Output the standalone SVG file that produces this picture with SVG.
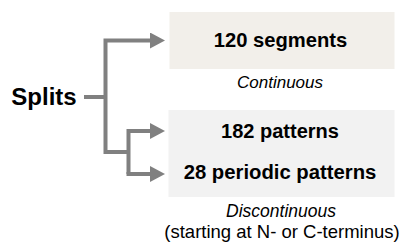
<svg xmlns="http://www.w3.org/2000/svg" width="406" height="251" viewBox="0 0 406 251">
  <style>
    .label { font-family: "Liberation Sans", Arial, sans-serif; fill: #000; text-anchor: middle; }
    .bold { font-weight: bold; font-size: 20px; }
    .note { font-size: 17px; }
    .note-lg { font-size: 18.5px; }
    .it { font-style: italic; }
    .wire { fill: none; stroke: #808080; stroke-width: 4; }
  </style>
  <defs>
    <marker id="head" viewBox="0 0 15 16" refX="0" refY="8" markerWidth="15" markerHeight="16" markerUnits="userSpaceOnUse" orient="auto">
      <polygon points="0,0 15,8 0,16" fill="#808080"/>
    </marker>
  </defs>

  <!-- root label -->
  <g id="splits">
    <text class="label bold" x="44" y="105" style="font-size:24px">Splits</text>
  </g>

  <!-- continuous category -->
  <g id="segments">
    <rect x="169.5" y="12" width="225" height="57" fill="#f2efea"/>
    <text class="label bold" x="280.5" y="47" style="font-size:20.2px">120 segments</text>
    <text class="label note it" x="280" y="88">Continuous</text>
  </g>

  <!-- discontinuous category -->
  <g id="patterns">
    <rect x="168.5" y="110" width="226" height="87" fill="#f2f2f2"/>
    <text class="label bold" x="280" y="138">182 patterns</text>
    <text class="label bold" x="280" y="179" style="font-size:20.3px">28 periodic patterns</text>
    <text class="label note it" x="281" y="217" style="font-size:17.5px">Discontinuous</text>
    <text class="label note-lg" x="282" y="238">(starting at N- or C-terminus)</text>
  </g>

  <!-- connectors -->
  <g id="connectors">
    <path class="wire" d="M84,97 H105.5"/>
    <path class="wire" d="M128.5,152 H105.5 V40.5 H150" marker-end="url(#head)"/>
    <path class="wire" d="M128.5,174 V131 H150" marker-end="url(#head)"/>
    <path class="wire" d="M128.5,172 V174 H150" marker-end="url(#head)"/>
  </g>
</svg>
